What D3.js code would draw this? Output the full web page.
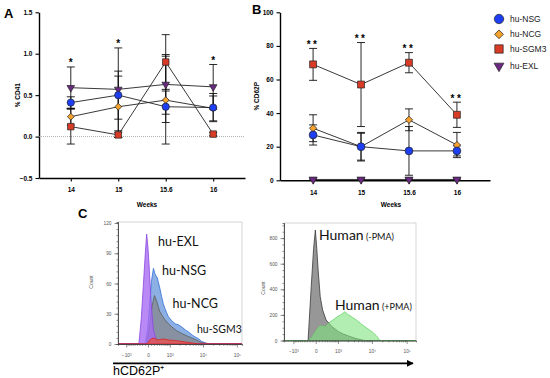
<!DOCTYPE html>
<html>
<head>
<meta charset="utf-8">
<script src="https://cdn.jsdelivr.net/npm/d3@7"></script>
<style>
body { margin: 0; background: #fff; }
text { font-family: "Liberation Sans", Arial, sans-serif; }
.hist text.lbl { font-family: Lato, "Open Sans", sans-serif; }
</style>
</head>
<body>
<svg id="chart" width="550" height="378"></svg>
<script>
// ---- data ----
var weeks = ["14", "15", "15.6", "16"];
var groups = ["hu-NSG", "hu-NCG", "hu-SGM3", "hu-EXL"];

// A: % CD41 mean and sd
var cd41NSG = [0.41, 0.50, 0.36, 0.35];
var cd41NCG = [0.24, 0.36, 0.44, 0.34];
var cd41SGM3 = [0.12, 0.02, 0.90, 0.03];
var cd41EXL = [0.59, 0.57, 0.63, 0.60];
var cd41NSGsd = [0.07, 0.29, 0.19, 0.17];
var cd41NCGsd = [0.10, 0.37, 0.53, 0.15];
var cd41SGM3sd = [0.21, 0.03, 0.33, 0.02];
var cd41EXLsd = [0.25, 0.50, 0.36, 0.27];
var cd41Stars = ["*", "*", "", "*"];
var cd41Ticks = [-0.5, 0, 0.5, 1.0, 1.5];

// B: % CD62P mean and sd
var cd62NSG = [27, 20, 17.5, 17.5];
var cd62NCG = [31, 20, 36, 21];
var cd62SGM3 = [69, 57, 70, 39];
var cd62EXL = [0.5, 0.5, 0.5, 0.5];
var cd62NSGsd = [6, 8.5, 14.5, 3];
var cd62NCGsd = [8, 8, 6.5, 7.5];
var cd62SGM3sd = [9.5, 25, 6, 7.5];
var cd62EXLsd = [0.3, 0.3, 0.3, 0.3];
var cd62Stars = ["**", "**", "**", "**"];
var cd62Ticks = [0, 20, 40, 60, 80, 100];

// C: histograms (x in display channel units, y = count)
var histTicks = [-1000, 0, 1000, 10000, 100000];
var histTickLabels = ["\u221210\u00b3", "0", "10\u00b3", "10\u2074", "10\u2075"];

var exlX = [-0.88, -0.27, -0.2, -0.14, -0.08, -0.04, 0.0, 0.04, 0.09, 0.16, 0.26, 0.4, 2.76];
var exlY = [0, 0, 25, 57, 90, 109, 95, 73, 41, 14, 2, 0, 0];
var nsgX = [-0.88, -0.09, -0.02, 0.05, 0.1, 0.16, 0.2, 0.23, 0.27, 0.3, 0.35, 0.4, 0.45, 0.5, 0.55, 0.6, 0.7, 0.8, 0.9, 0.99, 1.1, 1.19, 1.3, 1.39, 1.5, 1.58, 1.78, 2.76];
var nsgY = [0, 0, 12, 40, 62, 75, 70, 68, 66, 62, 55, 47, 40, 35, 31, 27, 23, 20, 19, 17, 14, 12, 9, 7, 5, 2.5, 0, 0];
var ncgX = [-0.88, -0.04, 0.05, 0.12, 0.19, 0.26, 0.3, 0.35, 0.42, 0.5, 0.6, 0.7, 0.85, 0.99, 1.15, 1.29, 1.45, 1.58, 1.83, 2.76];
var ncgY = [0, 0, 18, 38, 48, 42, 37, 32, 28, 24, 20, 17, 13, 10.5, 8, 6, 3.5, 1.5, 0, 0];
var sgm3X = [-0.88, -0.03, 0.05, 0.15, 0.3, 0.45, 0.6, 0.8, 1.0, 1.2, 1.5, 2.76];
var sgm3Y = [0, 0, 4, 6, 4, 5, 4, 3.5, 2.5, 1.5, 0, 0];

var pmaNegX = [-0.91, -0.22, -0.13, -0.06, -0.01, 0.03, 0.07, 0.13, 0.2, 0.3, 0.47, 0.66, 0.8, 0.95, 1.14, 1.33, 1.42, 2.89];
var pmaNegY = [0, 0, 420, 720, 863, 720, 550, 342, 238, 160, 108, 69, 50, 35, 17, 4, 0, 0];
var pmaPosX = [-0.91, -0.2, -0.1, -0.01, 0.06, 0.13, 0.2, 0.28, 0.35, 0.42, 0.5, 0.56, 0.64, 0.71, 0.78, 0.84, 0.9, 0.95, 1.02, 1.1, 1.2, 1.29, 1.38, 1.48, 1.55, 1.62, 1.7, 1.77, 1.83, 1.88, 2.89];
var pmaPosY = [0, 0, 30, 69, 95, 113, 112, 108, 128, 147, 160, 173, 188, 199, 212, 225, 210, 199, 188, 173, 155, 134, 115, 95, 82, 69, 50, 30, 4, 0, 0];

// ---- styles for the groups ----
var colors = { "hu-NSG": "#1d3ef2", "hu-NCG": "#f6a22c", "hu-SGM3": "#d83b26", "hu-EXL": "#6a2a80" };

function symPath(name, size) {
  if (name == "hu-NSG") return d3.symbol(d3.symbolCircle, size)();
  if (name == "hu-NCG") return d3.symbol(d3.symbolSquare, size * 0.55)();
  if (name == "hu-SGM3") return d3.symbol(d3.symbolSquare, size)();
  return d3.symbol(d3.symbolTriangle, size * 0.6)();
}
function symRot(name) {
  if (name == "hu-NCG") return 45;
  if (name == "hu-EXL") return 180;
  return 0;
}

var svg = d3.select("#chart");
svg.append("rect").attr("width", 550).attr("height", 378).attr("fill", "#fff");

// ---- line panel helper ----
function linePanel(opt) {
  var g = svg.append("g");
  var x = d3.scalePoint().domain(weeks).range(opt.xr).padding(opt.pad);
  var y = d3.scaleLinear().domain(opt.yd).range(opt.yr);

  var ya = g.append("g").attr("transform", "translate(" + opt.xr[0] + ",0)")
    .call(d3.axisLeft(y).tickValues(opt.ticks).tickFormat(opt.fmt).tickSize(3.5).tickSizeOuter(0));
  var xa = g.append("g").attr("transform", "translate(0," + opt.yr[0] + ")")
    .call(d3.axisBottom(x).tickSize(3.5).tickSizeOuter(0));
  [ya, xa].forEach(function (a) {
    a.select(".domain").attr("stroke", "#000").attr("stroke-width", 1.4);
    a.selectAll(".tick line").attr("stroke", "#000").attr("stroke-width", 1.1);
    a.selectAll("text").attr("font-size", 6.5).attr("font-weight", "bold").attr("fill", "#000");
  });
  xa.selectAll("text").attr("dy", "1.2em");

  if (opt.zeroLine) {
    g.append("line").attr("x1", opt.xr[0]).attr("x2", opt.xr[1])
      .attr("y1", y(0)).attr("y2", y(0))
      .attr("stroke", "#999").attr("stroke-width", 0.8).attr("stroke-dasharray", "1,1");
  }

  g.append("text").attr("transform", "translate(" + opt.ylx + "," + (opt.yr[0] + opt.yr[1]) / 2 + ") rotate(-90)")
    .attr("text-anchor", "middle").attr("font-size", 6.5).attr("font-weight", "bold").text(opt.ylabel);
  g.append("text").attr("x", opt.wx).attr("y", 207).attr("text-anchor", "middle")
    .attr("font-size", 6.5).attr("font-weight", "bold").text("Weeks");

  // error bars
  var tops = weeks.map(function () { return Infinity; });
  opt.series.forEach(function (s) {
    s.vals.forEach(function (v, i) {
      var cx = x(weeks[i]), y1 = y(v + s.sd[i]), y2 = y(v - s.sd[i]);
      tops[i] = Math.min(tops[i], y1);
      g.append("line").attr("x1", cx).attr("x2", cx).attr("y1", y1).attr("y2", y2)
        .attr("stroke", "#111").attr("stroke-width", 0.9);
      [y1, y2].forEach(function (yy) {
        g.append("line").attr("x1", cx - 4).attr("x2", cx + 4).attr("y1", yy).attr("y2", yy)
          .attr("stroke", "#111").attr("stroke-width", 0.9);
      });
    });
  });

  // lines
  var line = d3.line().x(function (d, i) { return x(weeks[i]); }).y(function (d) { return y(d); });
  opt.series.forEach(function (s) {
    g.append("path").attr("d", line(s.vals)).attr("fill", "none")
      .attr("stroke", "#222").attr("stroke-width", 0.9);
  });

  // markers
  opt.series.forEach(function (s) {
    g.selectAll(null).data(s.vals).enter().append("path")
      .attr("d", symPath(s.name, opt.msize))
      .attr("transform", function (d, i) {
        return "translate(" + x(weeks[i]) + "," + y(d) + ") rotate(" + symRot(s.name) + ")";
      })
      .attr("fill", colors[s.name]).attr("stroke", "#222").attr("stroke-width", 0.7);
  });

  // significance stars
  opt.stars.forEach(function (st, i) {
    if (!st) return;
    g.append("text").attr("x", x(weeks[i])).attr("y", tops[i] + 1)
      .attr("dy", "-0.15em")
      .attr("text-anchor", "middle").attr("font-size", 10).attr("font-weight", "bold")
      .attr("letter-spacing", st.length > 1 ? 2.5 : 0).text(st);
  });
}

linePanel({
  xr: [39, 245], pad: 0.67, yd: [-0.5, 1.5], yr: [178, 12.3],
  ticks: cd41Ticks, fmt: d3.format(".1f"), zeroLine: true,
  ylabel: "% CD41", ylx: 20, wx: 147, msize: 42, stars: cd41Stars,
  series: [
    { name: "hu-EXL", vals: cd41EXL, sd: cd41EXLsd },
    { name: "hu-NCG", vals: cd41NCG, sd: cd41NCGsd },
    { name: "hu-NSG", vals: cd41NSG, sd: cd41NSGsd },
    { name: "hu-SGM3", vals: cd41SGM3, sd: cd41SGM3sd }
  ]
});

linePanel({
  xr: [280, 490], pad: 0.69, yd: [0, 100], yr: [180.3, 12.3],
  ticks: cd62Ticks, fmt: d3.format("d"), zeroLine: false,
  ylabel: "% CD62P", ylx: 259, wx: 391, msize: 48, stars: cd62Stars,
  series: [
    { name: "hu-EXL", vals: cd62EXL, sd: cd62EXLsd },
    { name: "hu-NCG", vals: cd62NCG, sd: cd62NCGsd },
    { name: "hu-NSG", vals: cd62NSG, sd: cd62NSGsd },
    { name: "hu-SGM3", vals: cd62SGM3, sd: cd62SGM3sd }
  ]
});

// legend
var legY = [19, 34.3, 49, 66];
groups.forEach(function (name, i) {
  svg.append("path").attr("d", symPath(name, 70))
    .attr("transform", "translate(499," + legY[i] + ") rotate(" + symRot(name) + ")")
    .attr("fill", colors[name]).attr("stroke", "#222").attr("stroke-width", 0.7);
  svg.append("text").attr("x", 510).attr("y", legY[i] + 3).attr("font-size", 8.5)
    .attr("fill", "#222").text(name);
});

// panel letters
[["A", 4, 18], ["B", 252, 14], ["C", 78, 218]].forEach(function (p) {
  svg.append("text").attr("x", p[1]).attr("y", p[2]).attr("font-size", 13)
    .attr("font-weight", "bold").text(p[0]);
});

// ---- histograms ----
function biex(v) { return Math.asinh(v / 480) / Math.LN10; }

function histPanel(opt) {
  var g = svg.append("g").attr("class", "hist");
  var x = d3.scaleLinear().domain(opt.xd).range(opt.xr);
  var y = d3.scaleLinear().domain(opt.yd).range(opt.yr);

  g.append("rect").attr("x", opt.xr[0]).attr("y", opt.yr[1])
    .attr("width", opt.xr[1] - opt.xr[0]).attr("height", opt.yr[0] - opt.yr[1])
    .attr("fill", "none").attr("stroke", "#c4c4c4").attr("stroke-width", 0.7);

  var area = d3.area().x(function (d) { return x(d[0]); }).y0(y(0)).y1(function (d) { return y(d[1]); });
  opt.curves.forEach(function (c) {
    var pts = c.xs.map(function (v, i) { return [v, c.ys[i]]; });
    g.append("path").attr("d", area(pts)).attr("fill", c.fill).attr("fill-opacity", c.op)
      .attr("stroke", c.stroke).attr("stroke-width", 0.8);
  });

  // y axis with minor ticks
  var yMinor = g.append("g").attr("transform", "translate(" + opt.xr[0] + ",0)")
    .call(d3.axisLeft(y).tickValues(d3.range(0, opt.yd[1], opt.yminor)).tickSize(1.5).tickFormat(""));
  var yMajor = g.append("g").attr("transform", "translate(" + opt.xr[0] + ",0)")
    .call(d3.axisLeft(y).tickValues(opt.yticks).tickSize(3.5).tickSizeOuter(0));

  // x axis with minor ticks
  var minors = [];
  for (var k = 100; k < 1000; k += 100) { minors.push(k); minors.push(-k); }
  for (var m = 2; m < 10; m++) { minors.push(m * 1000); minors.push(m * 10000); }
  var xMinor = g.append("g").attr("transform", "translate(0," + opt.yr[0] + ")")
    .call(d3.axisBottom(x).tickValues(minors.map(biex)).tickSize(1.8).tickFormat(""));
  var xMajor = g.append("g").attr("transform", "translate(0," + opt.yr[0] + ")")
    .call(d3.axisBottom(x).tickValues(histTicks.map(biex)).tickSize(3.5).tickSizeOuter(0)
      .tickFormat(function (d, i) { return histTickLabels[i]; }));

  [yMinor, yMajor, xMinor, xMajor].forEach(function (a) {
    a.select(".domain").attr("stroke", "#444").attr("stroke-width", 0.7);
    a.selectAll(".tick line").attr("stroke", "#444").attr("stroke-width", 0.6);
    a.selectAll("text").attr("font-size", 4.8).attr("fill", "#555");
  });
  xMajor.selectAll(".tick text").attr("dy", "1.3em");

  g.append("text").attr("transform", "translate(" + opt.cx + "," + opt.cy + ") rotate(-90)")
    .attr("text-anchor", "middle").attr("font-size", 5).attr("fill", "#555").text("Count");

  opt.labels.forEach(function (l) {
    var t = g.append("text").attr("class", "lbl").attr("x", l[0]).attr("y", l[1])
      .attr("font-size", l[3]).attr("fill", "#111").text(l[2]);
    if (l[4]) t.append("tspan").attr("font-size", 9).text(" " + l[4]);
  });
}

histPanel({
  xd: [-0.885, 2.77], xr: [118, 242], yd: [0, 121], yr: [344, 222],
  yticks: [0, 30, 60, 90, 120], yminor: 6, cx: 93, cy: 282,
  curves: [
    { xs: nsgX, ys: nsgY, fill: "#86ace3", op: 0.95, stroke: "#2f6ed8" },
    { xs: ncgX, ys: ncgY, fill: "#858585", op: 0.7, stroke: "#5c5c5c" },
    { xs: exlX, ys: exlY, fill: "#a86cf2", op: 0.8, stroke: "#8a45e0" },
    { xs: sgm3X, ys: sgm3Y, fill: "#e25555", op: 0.85, stroke: "#d92525" }
  ],
  labels: [[158, 246, "hu-EXL", 12.5], [162, 275, "hu-NSG", 12.5], [172.5, 307.5, "hu-NCG", 12.5], [197, 333, "hu-SGM3", 10.5]]
});

histPanel({
  xd: [-0.914, 2.89], xr: [284, 416], yd: [0, 918], yr: [340.5, 223],
  yticks: [0, 200, 400, 600, 800], yminor: 50, cx: 265, cy: 288,
  curves: [
    { xs: pmaNegX, ys: pmaNegY, fill: "#979797", op: 1, stroke: "#3a3a3a" },
    { xs: pmaPosX, ys: pmaPosY, fill: "#7fe37f", op: 0.6, stroke: "#66d466" }
  ],
  labels: [[319, 240, "Human", 14, "(-PMA)"], [335, 310, "Human", 14, "(+PMA)"]]
});

// shared axis arrow and label
svg.append("defs").append("marker").attr("id", "arr").attr("viewBox", "0 0 10 10")
  .attr("refX", 9).attr("refY", 5).attr("markerWidth", 4).attr("markerHeight", 4)
  .attr("orient", "auto").append("path").attr("d", "M0,0L10,5L0,10z").attr("fill", "#000");
svg.append("line").attr("x1", 113).attr("x2", 413).attr("y1", 363.3).attr("y2", 363.3)
  .attr("stroke", "#000").attr("stroke-width", 1.8).attr("marker-end", "url(#arr)");
svg.append("text").attr("x", 113).attr("y", 375).attr("font-size", 12.5)
  .attr("font-family", "Lato, 'Open Sans', sans-serif").text("hCD62P\u207a");
</script>
</body>
</html>
